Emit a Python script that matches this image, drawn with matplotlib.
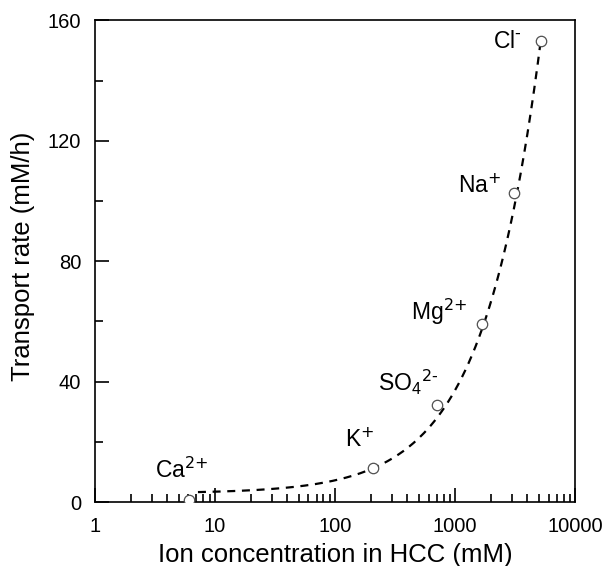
import numpy as np
import matplotlib
matplotlib.use("Agg")
import matplotlib.pyplot as plt
from matplotlib.ticker import LogLocator, MultipleLocator, FixedLocator

plt.rcParams['font.family'] = ['Liberation Sans', 'DejaVu Sans']
plt.rcParams['mathtext.default'] = 'regular'

# measured ions: concentration in HCC (mM) vs transport rate (mM/h)
ions = [r'Ca$^{\text{2+}}$', r'K$^{\text{+}}$', r'SO$_4$$^{\text{2-}}$',
        r'Mg$^{\text{2+}}$', r'Na$^{\text{+}}$', r'Cl$^{\text{-}}$']
conc = [6.1, 208, 708, 1660, 3090, 5200]
rate = [0.7, 11.3, 32.3, 59, 102.5, 153]
label_xy = [(5.3, 10.7), (161, 20.7), (406, 39.7), (736, 63.3), (1585, 105), (2710, 153)]

# dashed trend line  y = b + c * x**p  (parameters)
fit_b, fit_c, fit_p = 2.9, 0.0685, 0.9
fit_range = (7.2, 5200)

xf = np.logspace(np.log10(fit_range[0]), np.log10(fit_range[1]), 200)
yf = fit_b + fit_c * xf ** fit_p

fig = plt.figure(figsize=(6.11, 5.66), dpi=100)
ax = fig.add_axes([0.1555, 0.113, 0.786, 0.851])

ax.plot(xf, yf, color='black', lw=1.6, dashes=(3.6, 3.0))
ax.plot(conc, rate, 'o', mfc='white', mec='#505050', mew=0.9, ms=7.5, zorder=3)

for name, (lx, ly) in zip(ions, label_xy):
    ax.text(lx, ly, name, fontsize=16.5, ha='center', va='center')

ax.set_xscale('log')
ax.set_xlim(1, 10000)
ax.set_ylim(0, 160)
ax.xaxis.set_major_locator(FixedLocator([1, 10, 100, 1000, 10000]))
ax.xaxis.set_minor_locator(LogLocator(base=10, subs=np.arange(2, 10)))
ax.set_xticklabels(['1', '10', '100', '1000', '10000'])
ax.yaxis.set_major_locator(MultipleLocator(40))
ax.yaxis.set_minor_locator(MultipleLocator(20))

ax.tick_params(which='both', direction='in', top=False, right=False, labelsize=14.5, width=1.2)
ax.tick_params(axis='x', which='major', length=10, pad=11)
ax.tick_params(axis='y', which='major', length=10, pad=10)
ax.tick_params(which='minor', length=5.5)
for s in ax.spines.values():
    s.set_linewidth(1.2)

ax.set_xlabel('Ion concentration in HCC (mM)', fontsize=18.5)
ax.set_ylabel('Transport rate (mM/h)', fontsize=18.5)
ax.xaxis.set_label_coords(0.5, -0.085)
ax.yaxis.set_label_coords(-0.125, 0.51)

fig.savefig('out.png', dpi=100)
